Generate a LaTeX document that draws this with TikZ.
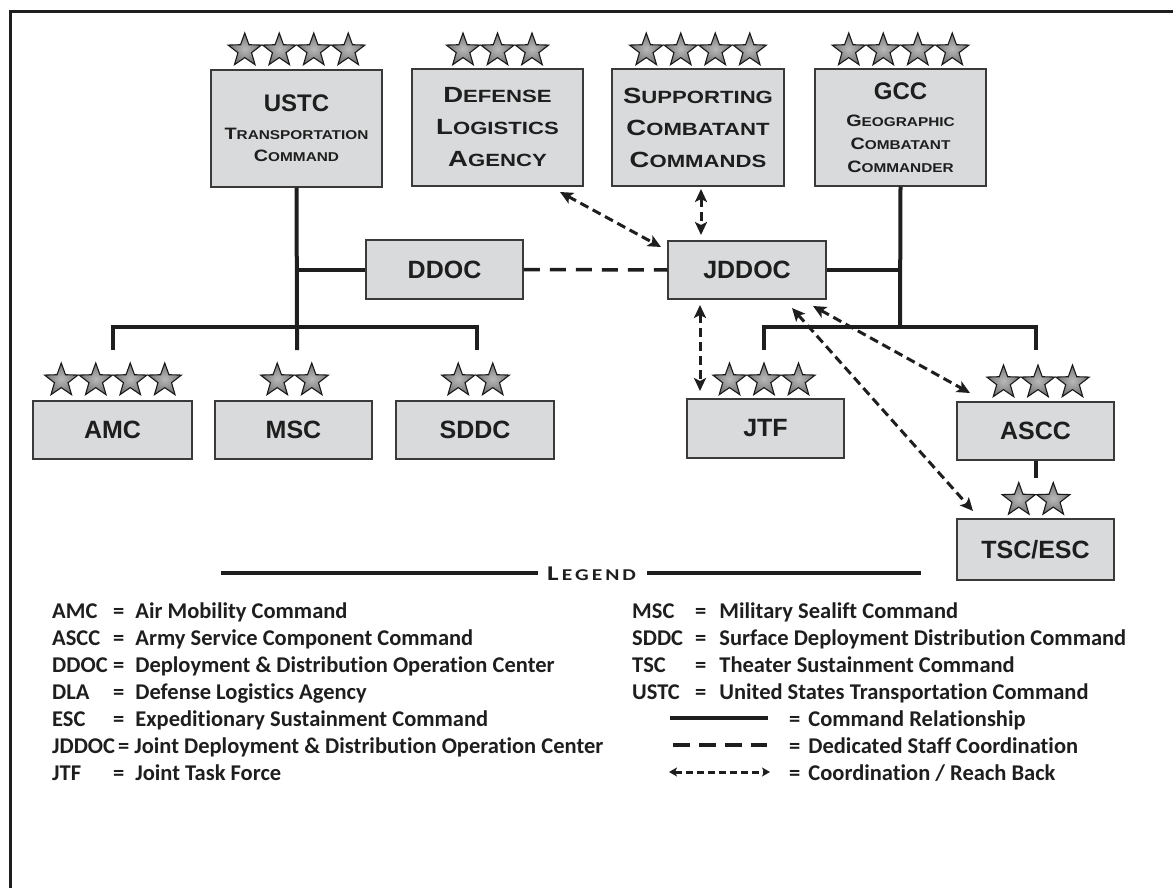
\documentclass[tikz,border=0pt]{standalone}
\usepackage{fontspec}
\setmainfont{Liberation Sans}
\newfontfamily\legfont{Carlito}[Ligatures=NoCommon]
\newfontfamily\legwide{Carlito}[FakeStretch=1.3]
\newfontfamily\widefont{Liberation Sans}[FakeStretch=1.2]
\newfontfamily\widerfont{Liberation Sans}[FakeStretch=1.25]
\usetikzlibrary{arrows.meta,shapes.geometric}
\definecolor{boxfill}{HTML}{D9DADB}
\definecolor{ink}{HTML}{1E1E1E}
\definecolor{boxline}{HTML}{3A3A3A}
\newcommand\smcA[2]{{\widerfont\bfseries\fontsize{22}{32}\selectfont #1\fontsize{17.7}{32}\selectfont #2}}
\newcommand\smcB[2]{{\widefont\bfseries\fontsize{16.5}{22}\selectfont #1\fontsize{12.8}{22}\selectfont #2}}
\newcommand\rankstars[4]{%
  \foreach \i in {1,...,#2}{\node[rank] (#1-\i) at ({#3+(\i-(#2+1)/2)*34.5},#4) {};}}
\tikzset{
  box/.style={draw=boxline, fill=boxfill, line width=1.5pt, inner sep=0pt, align=center, text=ink,
    font=\bfseries\fontsize{25}{30}\selectfont},
  cmd/.style={line width=4pt, draw=ink},
  stafflink/.style={line width=3.5pt, draw=ink, dash pattern=on 16pt off 10pt},
  coordlink/.style={line width=3pt, draw=ink, dash pattern=on 9pt off 5pt,
    {Stealth[length=13pt,width=12pt,inset=3pt]}-{Stealth[length=13pt,width=12pt,inset=3pt]}},
  rank/.style={star, star points=5, star point ratio=2.45, minimum size=35pt, inner sep=0pt,
    draw=black!90, line width=1.1pt, inner color=gray!55, outer color=gray!90!black},
  leg/.style={anchor=base west, inner sep=0pt, text=ink, font=\legfont\bfseries\fontsize{22.5}{26}\selectfont},
}
\begin{document}
\begin{tikzpicture}[x=1pt,y=-1pt]
\useasboundingbox (0,0) rectangle (1173,888);
% frame
\draw[line width=2.5pt, draw=ink] (10.5,888) -- (10.5,11.5) -- (1173,11.5);

% top boxes
\node[box, minimum width=171pt, minimum height=117pt, font=\bfseries\fontsize{16}{22}\selectfont] (ustc) at (296.5,128.5)
  {{\fontsize{24}{22}\selectfont USTC}\\[6pt] \smcB{T}{RANSPORTATION}\\ \smcB{C}{OMMAND}};
\node[box, minimum width=171pt, minimum height=117pt, font=\bfseries\fontsize{22}{32}\selectfont] (dla) at (497.5,127.5)
  {\smcA{D}{EFENSE}\\ \smcA{L}{OGISTICS}\\ \smcA{A}{GENCY}};
\node[box, minimum width=172pt, minimum height=117pt, font=\bfseries\fontsize{22}{32}\selectfont] (sup) at (698,127.5)
  {\smcA{S}{UPPORTING}\\ \smcA{C}{OMBATANT}\\ \smcA{C}{OMMANDS}};
\node[box, minimum width=171pt, minimum height=117pt, font=\bfseries\fontsize{16}{23}\selectfont] (gcc) at (900.5,127.5)
  {{\fontsize{24}{22}\selectfont GCC}\\[4pt] \smcB{G}{EOGRAPHIC}\\ \smcB{C}{OMBATANT}\\ \smcB{C}{OMMANDER}};
\rankstars{ustcs}{4}{296.5}{50.5}
\rankstars{dlas}{3}{497.5}{50.5}
\rankstars{sups}{4}{698}{50.5}
\rankstars{gccs}{4}{900.5}{50.5}

% middle boxes
\node[box, minimum width=157pt, minimum height=59pt] (ddoc) at (444.5,269.5) {DDOC};
\node[box, minimum width=158pt, minimum height=58pt] (jddoc) at (747,270) {JDDOC};

% bottom boxes
\node[box, minimum width=159pt, minimum height=58pt] (amc) at (112.5,430) {AMC};
\node[box, minimum width=157pt, minimum height=58pt] (msc) at (293.5,430) {MSC};
\node[box, minimum width=158pt, minimum height=58pt] (sddc) at (475,430) {SDDC};
\node[box, minimum width=157pt, minimum height=59pt] (jtf) at (765.5,428.5) {JTF};
\node[box, minimum width=157pt, minimum height=58pt] (ascc) at (1035.5,431) {ASCC};
\node[box, minimum width=157pt, minimum height=61pt] (tsc) at (1035.5,549.5) {TSC/ESC};
\rankstars{amcs}{4}{113}{380.5}
\rankstars{mscs}{2}{294.5}{380.5}
\rankstars{sddcs}{2}{475.5}{380.5}
\rankstars{jtfs}{3}{764}{380.5}
\rankstars{asccs}{3}{1038}{382.5}
\rankstars{tscs}{2}{1036}{500}

% command relationships (USTC side)
\coordinate (ustcjoin) at (297,269.5);
\coordinate (ustcbar) at (297,327);
\coordinate (amcdrop) at (113,350);
\coordinate (mscdrop) at (297,350);
\coordinate (sddcdrop) at (477,350);
\draw[cmd] (ustc.south) -- (ustcbar) -- (mscdrop);
\draw[cmd] (ustcjoin) -- (ddoc.west);
\draw[cmd] (amcdrop) |- (ustcbar) -| (sddcdrop);

% command relationships (GCC side)
\coordinate (gccjoin) at (900,270);
\coordinate (gccbar) at (900,327);
\coordinate (jtfdrop) at (764,350);
\coordinate (asccdrop) at (1036,350);
\coordinate (tsctop) at (1036,478);
\draw[cmd] (gcc.south) -- (gccbar);
\draw[cmd] (jddoc.east) -- (gccjoin);
\draw[cmd] (jtfdrop) |- (gccbar) -| (asccdrop);
\draw[cmd] (ascc.south -| tsctop) -- (tsctop);

% dedicated staff coordination
\draw[stafflink] (ddoc.east) -- (jddoc.west);

% coordination / reach back
\coordinate (dlaend) at (560,192);
\coordinate (jddocnw) at (661,247);
\coordinate (supend) at (701,189);
\coordinate (jddocn) at (701,235);
\coordinate (jddocs) at (700,305);
\coordinate (jtfend) at (700,391);
\coordinate (jddocse) at (813,306);
\coordinate (asccend) at (970,393);
\coordinate (jddocs2) at (792,308);
\coordinate (tscend) at (973,511);
\draw[coordlink] (dlaend) -- (jddocnw);
\draw[coordlink] (supend) -- (jddocn);
\draw[coordlink] (jddocs) -- (jtfend);
\draw[coordlink] (jddocse) -- (asccend);
\draw[coordlink] (jddocs2) -- (tscend);

% legend header
\node[anchor=base west, inner sep=0pt, text=ink, font=\legwide\bfseries] (legtitle) at (547,580)
  {{\fontsize{21}{24}\selectfont L}\kern3pt{\fontsize{16.5}{24}\selectfont E\kern3pt G\kern3pt E\kern3pt N\kern3pt D}};
\coordinate (legl) at (221,573);
\coordinate (legr) at (921,573);
\draw[cmd] (legl) -- ([xshift=-9pt]legtitle.west |- legl);
\draw[cmd] ([xshift=11pt]legtitle.east |- legr) -- (legr);

% legend left column
\node[leg] (k1) at (52,618) {AMC};   \node[leg] (v1) at (113,618) {=\hspace{11pt}Air Mobility Command};
\node[leg] (k2) at (52,645) {ASCC};  \node[leg] (v2) at (113,645) {=\hspace{11pt}Army Service Component Command};
\node[leg] (k3) at (52,672) {DDOC};  \node[leg] (v3) at (113,672) {=\hspace{11pt}Deployment \& Distribution Operation Center};
\node[leg] (k4) at (52,699) {DLA};   \node[leg] (v4) at (113,699) {=\hspace{11pt}Defense Logistics Agency};
\node[leg] (k5) at (52,726) {ESC};   \node[leg] (v5) at (113,726) {=\hspace{11pt}Expeditionary Sustainment Command};
\node[leg] (k6) at (52,753) {JDDOC\hspace{3pt}=\hspace{5pt}Joint Deployment \& Distribution Operation Center};
\node[leg] (k7) at (52,780) {JTF};   \node[leg] (v7) at (113,780) {=\hspace{11pt}Joint Task Force};

% legend right column
\node[leg] (r1) at (632,618) {MSC};  \node[leg] (w1) at (695,618) {=\hspace{13pt}Military Sealift Command};
\node[leg] (r2) at (632,645) {SDDC}; \node[leg] (w2) at (695,645) {=\hspace{13pt}Surface Deployment Distribution Command};
\node[leg] (r3) at (632,672) {TSC};  \node[leg] (w3) at (695,672) {=\hspace{13pt}Theater Sustainment Command};
\node[leg] (r4) at (632,699) {USTC}; \node[leg] (w4) at (695,699) {=\hspace{13pt}United States Transportation Command};
\node[leg] (w5) at (789,726) {=\hspace{8pt}Command Relationship};
\node[leg] (w6) at (789,753) {=\hspace{8pt}Dedicated Staff Coordination};
\node[leg] (w7) at (789,780) {=\hspace{8pt}Coordination / Reach Back};
\coordinate (s1a) at (670,718); \coordinate (s1b) at (768,718);
\coordinate (s2a) at (673,745); \coordinate (s2b) at (767,745);
\coordinate (s3a) at (669,772); \coordinate (s3b) at (770,772);
\draw[line width=4.5pt, draw=ink] (s1a) -- (s1b);
\draw[line width=4.5pt, draw=ink, dash pattern=on 17pt off 9pt] (s2a) -- (s2b);
\draw[line width=3pt, draw=ink, dash pattern=on 7pt off 4pt,
  {Stealth[length=8pt,width=9pt,inset=2pt]}-{Stealth[length=8pt,width=9pt,inset=2pt]}] (s3a) -- (s3b);
\end{tikzpicture}
\end{document}
